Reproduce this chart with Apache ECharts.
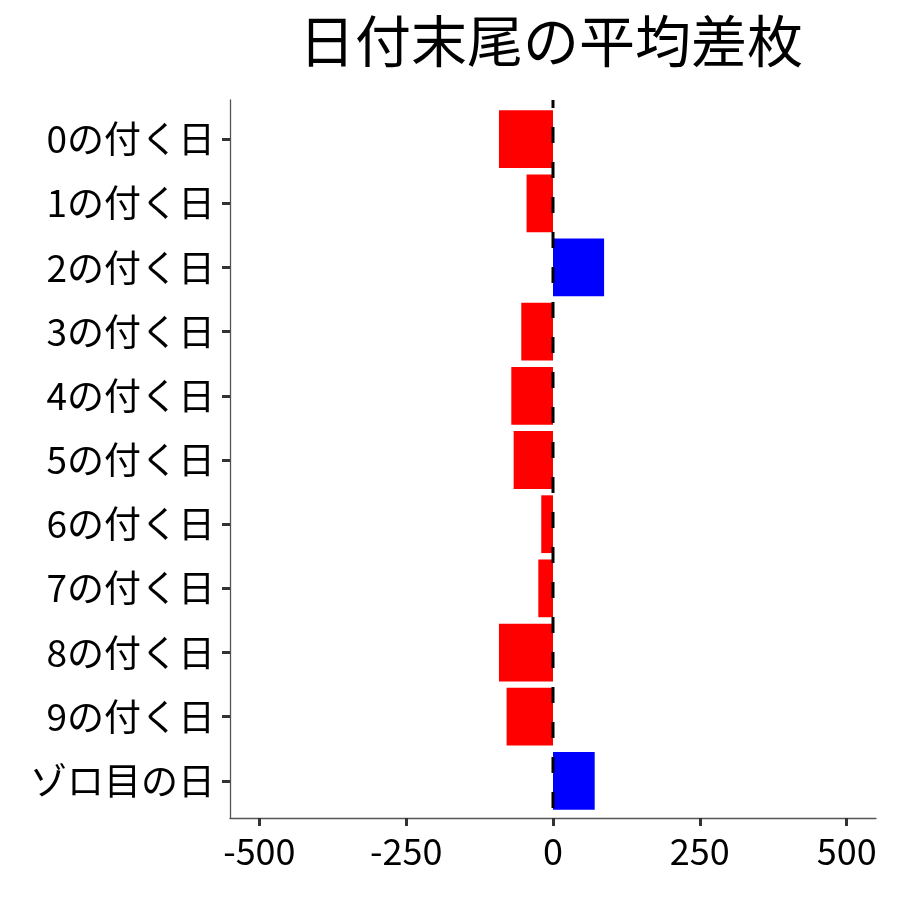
<!DOCTYPE html>
<html><head><meta charset="utf-8">
<script src="https://cdn.jsdelivr.net/npm/echarts@6/dist/echarts.min.js"></script>
<style>html,body{margin:0;padding:0;background:#fff}#c{width:900px;height:900px}</style>
</head><body><div id="c"></div>
<script>
const categories = ['0の付く日','1の付く日','2の付く日','3の付く日','4の付く日','5の付く日','6の付く日','7の付く日','8の付く日','9の付く日','ゾロ目の日'];
const values = [-92, -45, 87, -54, -71, -67, -20, -25, -92, -79, 71];
const xTicks = [-500, -250, 0, 250, 500];
const refLine = [[0, 1], [0, 0]];
const titleText = '日付末尾の平均差枚';
const font = '"Noto Sans CJK JP", "Noto Sans", sans-serif';

const chart = echarts.init(document.getElementById('c'));
chart.setOption({
  animation: false,
  title: {text: titleText, left: 546, top: 8, textAlign: 'center',
    textStyle: {fontFamily: font, fontSize: 56, fontWeight: 'normal', color: '#000'}},
  grid: [
    {left: 230, right: 24, top: 100, bottom: 82, containLabel: false},
    {left: 230, right: 24, top: 107, bottom: 87, containLabel: false}
  ],
  xAxis: [
    {type: 'value', gridIndex: 0, min: -550, max: 550,
      splitLine: {show: false},
      axisLine: {show: true, onZero: false, lineStyle: {color: '#555', width: 1.3}},
      axisTick: {show: true, customValues: xTicks, length: 8, lineStyle: {color: '#333', width: 3}},
      axisLabel: {customValues: xTicks, fontFamily: font, fontSize: 36, color: '#000', margin: 15}},
    {type: 'value', gridIndex: 1, min: -550, max: 550, show: false}
  ],
  yAxis: [
    {type: 'value', gridIndex: 0, min: 0, max: 1,
      splitLine: {show: false}, axisTick: {show: false}, axisLabel: {show: false},
      axisLine: {show: true, onZero: false, lineStyle: {color: '#555', width: 1.3}}},
    {type: 'category', gridIndex: 1, data: categories, inverse: true,
      axisLine: {show: false, onZero: false},
      axisTick: {show: true, alignWithLabel: true, length: 8, lineStyle: {color: '#333', width: 3}},
      axisLabel: {fontFamily: font, fontSize: 37, color: '#000', margin: 15}}
  ],
  series: [
    {type: 'bar', xAxisIndex: 1, yAxisIndex: 1, barCategoryGap: '10%', z: 2,
      data: values.map(v => ({value: v, itemStyle: {color: v < 0 ? '#FF0000' : '#0000FF'}}))},
    {type: 'line', xAxisIndex: 0, yAxisIndex: 0, data: refLine, symbol: 'none', z: 5, silent: true,
      lineStyle: {color: '#000', width: 3, type: [16, 19], dashOffset: 8}}
  ]
});
</script></body></html>
